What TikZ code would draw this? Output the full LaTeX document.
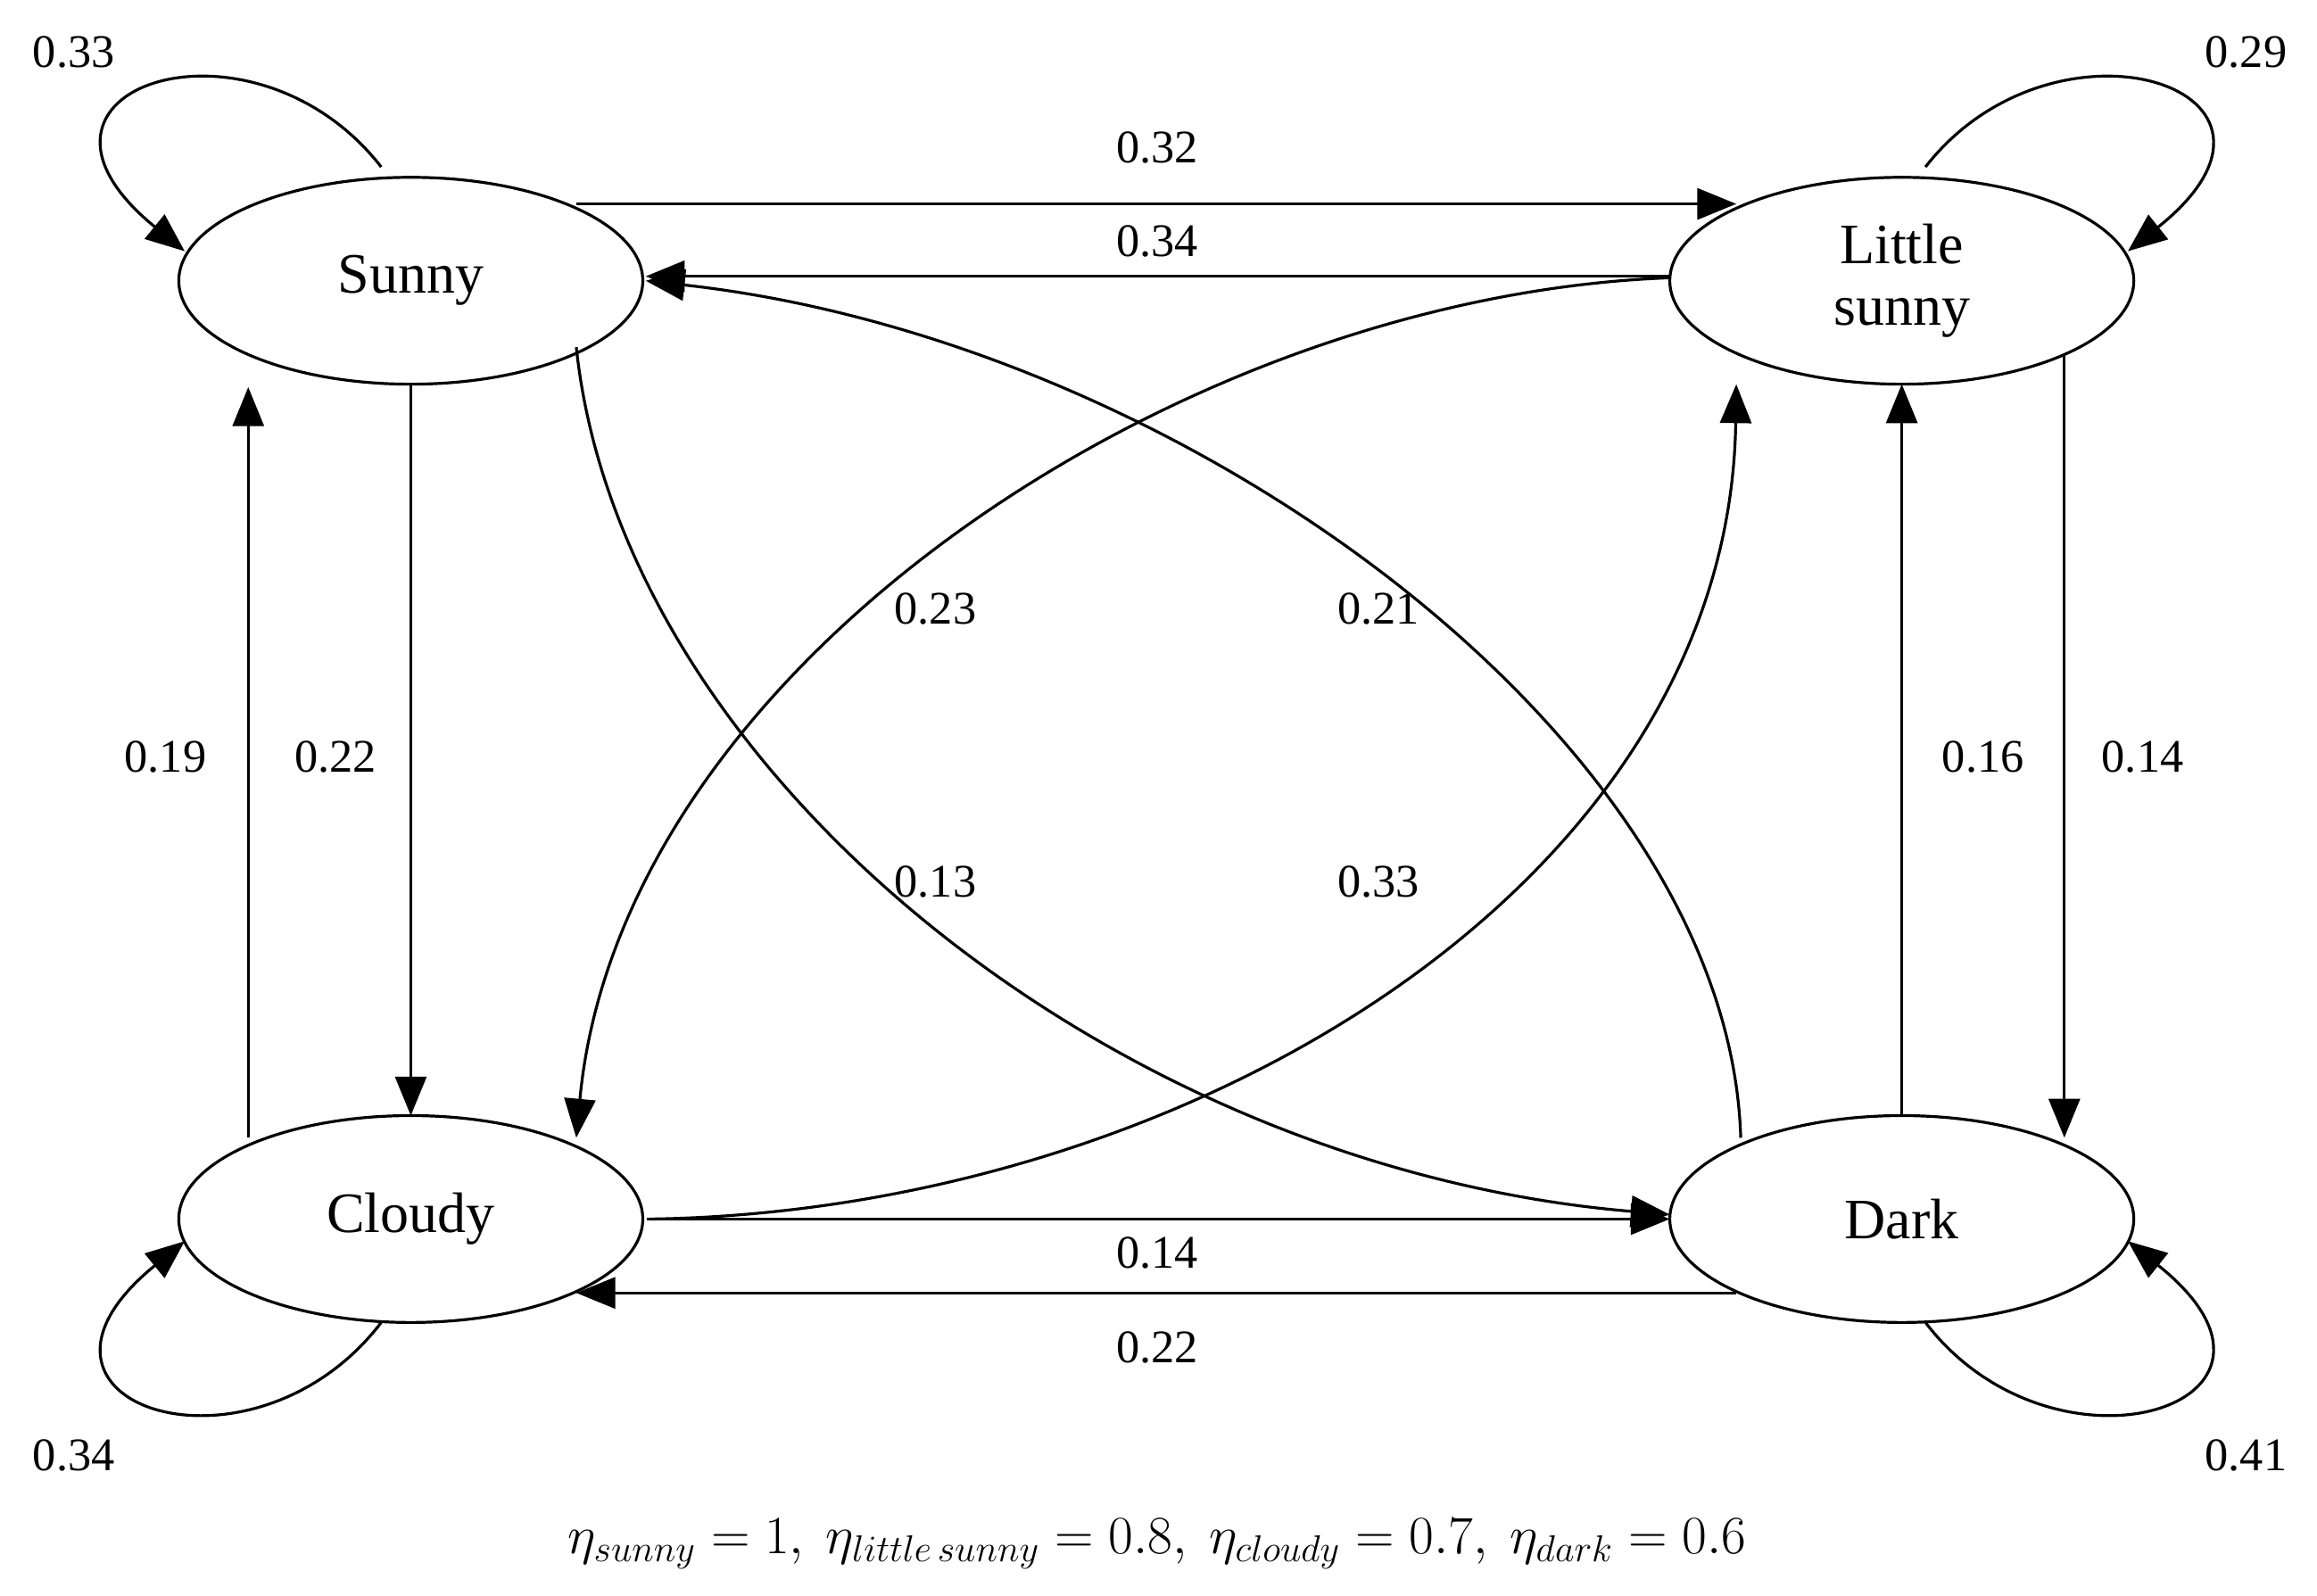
\documentclass[tikz,border=0pt]{standalone}
\usepackage{fontspec}
\setmainfont{Liberation Serif}
\usetikzlibrary{arrows.meta,shapes.geometric}
\begin{document}
\begin{tikzpicture}[x=0.02cm,y=-0.02cm,
  st/.style={draw,ellipse,line width=1.1pt,minimum width=314*0.02cm,minimum height=140*0.02cm,font=\fontsize{22}{26}\selectfont,align=center},
  ed/.style={line width=1.1pt,-{Triangle[length=15pt,width=12pt]}},
  lb/.style={font=\fontsize{18}{21}\selectfont}]
\useasboundingbox (0,0) rectangle (1568,1080);
\node[st] (S) at (278,190) {Sunny};
\node[st] (L) at (1287,190) {Little\\[-2pt]sunny};
\node[st] (C) at (278,825) {Cloudy};
\node[st] (D) at (1287,825) {Dark};
% straight
\draw[ed] (390,138) -- (1175,138); \node[lb] at (783,100) {0.32};
\draw[ed] (1130,187) -- (437,187); \node[lb] at (783,163) {0.34};
\draw[ed] (438,825) -- (1130,825); \node[lb] at (783,848) {0.14};
\draw[ed] (1175,875) -- (390,875); \node[lb] at (783,912) {0.22};
\draw[ed] (278,260) -- (278,755); \node[lb] at (227,512) {0.22};
\draw[ed] (168,770) -- (168,262); \node[lb] at (112,512) {0.19};
\draw[ed] (1397,240) -- (1397,770); \node[lb] at (1450,512) {0.14};
\draw[ed] (1287,755) -- (1287,260); \node[lb] at (1342,512) {0.16};
% curves
\draw[ed] (390,235) .. controls (420,520) and (750,790) .. (1130,822); \node[lb] at (633,597) {0.13};
\draw[ed] (1178,770) .. controls (1170,500) and (800,230) .. (437,190); \node[lb] at (933,412) {0.21};
\draw[ed] (1130,188) .. controls (800,200) and (420,450) .. (390,770); \node[lb] at (633,412) {0.23};
\draw[ed] (440,825) .. controls (800,820) and (1170,600) .. (1175,260); \node[lb] at (933,597) {0.33};
% loops
\draw[ed] (258,113) .. controls (170,0) and (-10,60) .. (125,170); \node[lb] at (50,35) {0.33};
\draw[ed] (1303,113) .. controls (1391,0) and (1578,60) .. (1440,170); \node[lb] at (1520,35) {0.29};
\draw[ed] (258,895) .. controls (170,1010) and (-10,950) .. (125,840); \node[lb] at (50,985) {0.34};
\draw[ed] (1303,895) .. controls (1391,1010) and (1578,950) .. (1440,840); \node[lb] at (1520,985) {0.41};
\node[font=\fontsize{20}{24}\selectfont] (F) at (783,1045) {$\eta_{sunny}=1,\ \eta_{little\,sunny}=0.8,\ \eta_{cloudy}=0.7,\ \eta_{dark}=0.6$};
\end{tikzpicture}
\end{document}
